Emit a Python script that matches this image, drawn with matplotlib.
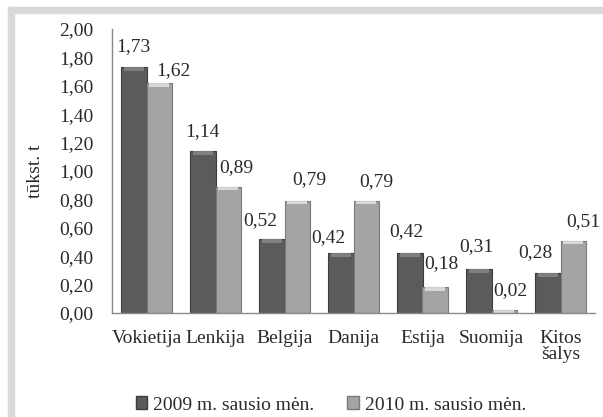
import matplotlib.pyplot as plt
import matplotlib.patches as mpatches
import numpy as np

countries = ["Vokietija", "Lenkija", "Belgija", "Danija", "Estija", "Suomija", "Kitos\nšalys"]
jan_2009 = [1.73, 1.14, 0.52, 0.42, 0.42, 0.31, 0.28]
jan_2010 = [1.62, 0.89, 0.79, 0.79, 0.18, 0.02, 0.51]
series_names = ["2009 m. sausio mėn.", "2010 m. sausio mėn."]
yticks = np.arange(0, 2.01, 0.2)

# label nudges in pixels (the original labels were hand placed)
dx_2009 = [0, 0, -11, -12, -3, -2, -12]
dy_2009 = [21, 20, 19, 16, 22, 22, 21]
dx_2010 = [14, 8, 12, 10, 6, 6, 10]
dy_2010 = [12, 19, 21, 19, 24, 20, 19]

dark, dark_edge, dark_cap = "#5b5b5b", "#3c3c3c", "#8a8a8a"
light, light_edge, light_cap = "#a4a4a4", "#7a7a7a", "#e6e6e6"

plt.rcParams["font.family"] = ["Liberation Serif", "DejaVu Serif"]
plt.rcParams["font.size"] = 14

W, H = 603, 417
fig = plt.figure(figsize=(W / 100, H / 100), dpi=100)

# grey frame on top and left edge
fig.patches.append(mpatches.Rectangle((8 / W, 1 - 13 / H), 1, 6 / H,
                                      transform=fig.transFigure, color="#d9d9d9", zorder=0))
fig.patches.append(mpatches.Rectangle((8 / W, 0), 6 / W, 1 - 7 / H,
                                      transform=fig.transFigure, color="#d9d9d9", zorder=0))

ax = fig.add_axes([112 / W, (H - 313) / H, (595 - 112) / W, (313 - 29) / H])

x = np.arange(len(countries))
w = 0.37
b1 = ax.bar(x - w / 2, jan_2009, w, color=dark, edgecolor=dark_edge, linewidth=0.8)
b2 = ax.bar(x + w / 2, jan_2010, w, color=light, edgecolor=light_edge, linewidth=0.8)

# light bevel on the top of each bar
cap = 0.025
for pos, vals, c in [(x - w / 2, jan_2009, dark_cap), (x + w / 2, jan_2010, light_cap)]:
    vals = np.array(vals)
    h = np.minimum(vals, cap)
    ax.bar(pos, h, w * 0.8, bottom=vals - h, color=c, linewidth=0, alpha=0.8)

def fmt(v):
    return f"{v:.2f}".replace(".", ",")

for bars, vals, dxs, dys in [(b1, jan_2009, dx_2009, dy_2009), (b2, jan_2010, dx_2010, dy_2010)]:
    for bar, v, ddx, ddy in zip(bars, vals, dxs, dys):
        ax.annotate(fmt(v), (bar.get_x() + bar.get_width() / 2, v),
                    xytext=(ddx, ddy), textcoords="offset pixels",
                    ha="center", va="center", color="#2a2a2a")

ax.set_xlim(-0.5, len(countries) - 0.5)
ax.set_ylim(0, 2.0)
ax.set_yticks(yticks)
ax.set_yticklabels([fmt(t) for t in yticks])
ax.set_xticks(x)
ax.set_xticklabels(countries, linespacing=0.95)
ax.tick_params(axis="y", length=0, pad=13.5, colors="#2a2a2a")
ax.tick_params(axis="x", length=0, pad=12, colors="#2a2a2a")

for s in ["top", "right"]:
    ax.spines[s].set_visible(False)
for s in ["left", "bottom"]:
    ax.spines[s].set_color("#8a8a8a")
    ax.spines[s].set_linewidth(1.0)

fig.text(35 / W, 1 - 171 / H, "tūkst. t", rotation=90, ha="center", va="center", color="#2a2a2a")

handles = [mpatches.Patch(facecolor=dark, edgecolor=dark_edge),
           mpatches.Patch(facecolor=light, edgecolor=light_edge)]
fig.legend(handles, series_names, loc="center", bbox_to_anchor=(331 / W, 1 - 405 / H),
           ncol=2, frameon=False, handlelength=0.6, handleheight=0.6,
           handletextpad=0.3, columnspacing=1.7, labelcolor="#2a2a2a")

fig.savefig("out.png", dpi=100)
